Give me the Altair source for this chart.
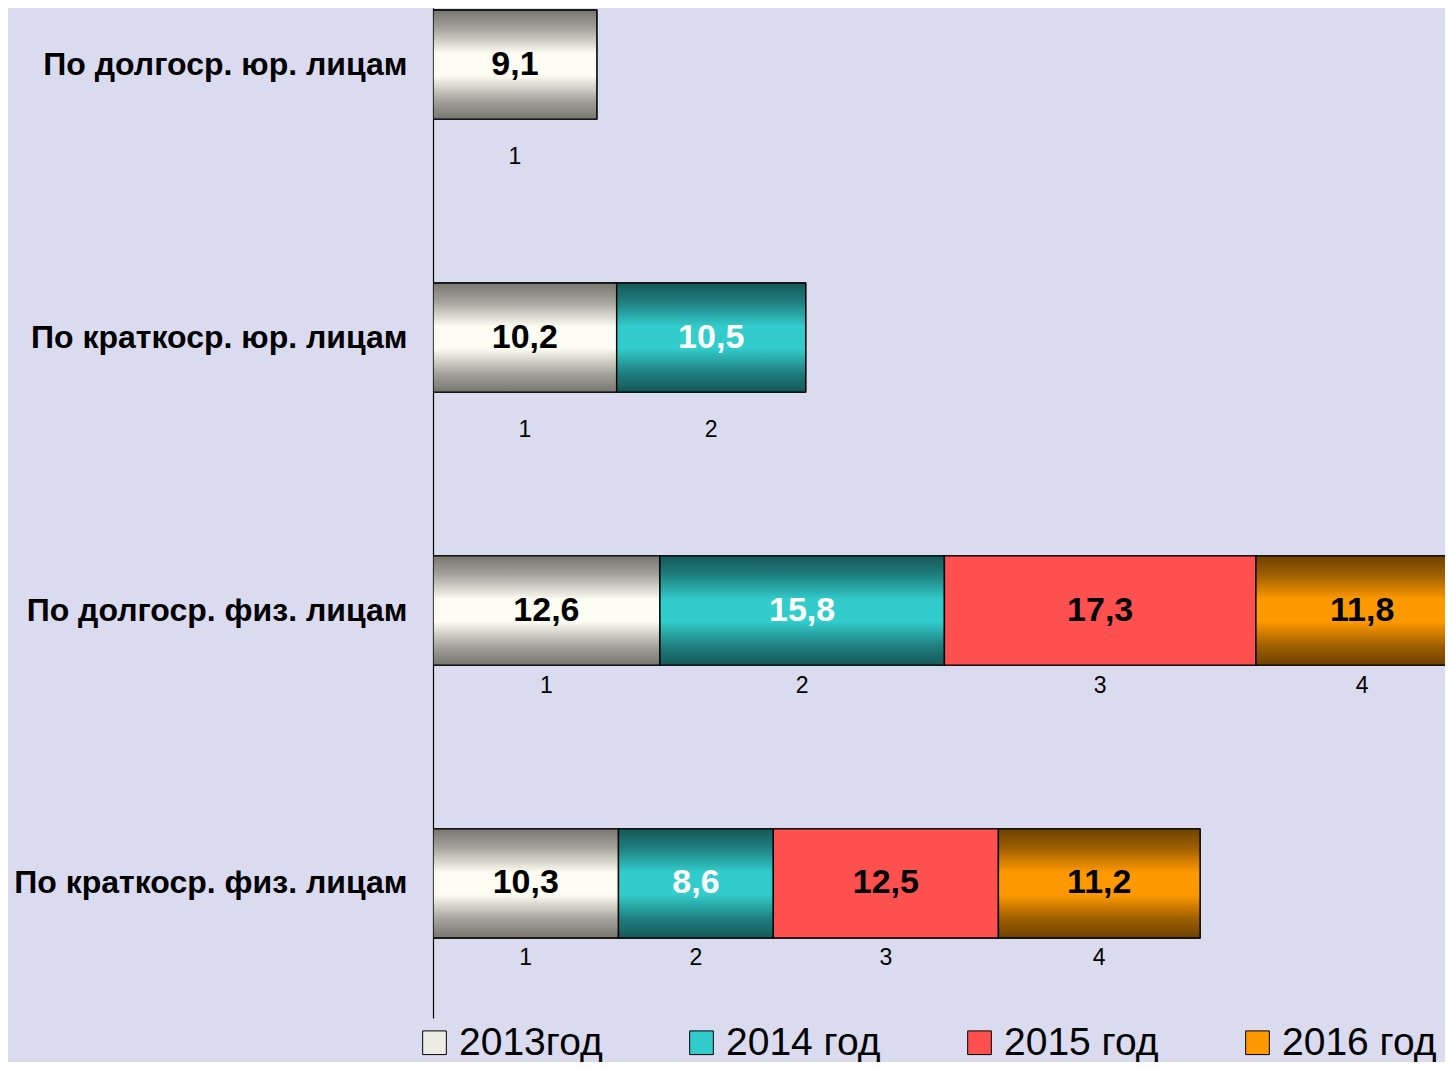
import altair as alt
import pandas as pd

categories = [
    "По долгоср. юр. лицам",
    "По краткоср. юр. лицам",
    "По долгоср. физ. лицам",
    "По краткоср. физ. лицам",
]
years = ["2013год", "2014 год", "2015 год", "2016 год"]
v2013 = [9.1, 10.2, 12.6, 10.3]
v2014 = [None, 10.5, 15.8, 8.6]
v2015 = [None, None, 17.3, 12.5]
v2016 = [None, None, 11.8, 11.2]

series = [v2013, v2014, v2015, v2016]
rows = []
for yi, (yr, vals) in enumerate(zip(years, series)):
    for ci, cat in enumerate(categories):
        if vals[ci] is not None:
            rows.append({"cat": cat, "year": yr, "order": yi + 1, "value": vals[ci]})
df = pd.DataFrame(rows)

FONT = "Liberation Sans"
solid = ["#ecece2", "#33cccc", "#ff5050", "#ff9900"]


def grad(dark, mid, light):
    return alt.Gradient(
        gradient="linear", x1=0, x2=0, y1=0, y2=1,
        stops=[
            alt.GradientStop(color=dark, offset=0),
            alt.GradientStop(color=mid, offset=0.17),
            alt.GradientStop(color=light, offset=0.4),
            alt.GradientStop(color=light, offset=0.6),
            alt.GradientStop(color=mid, offset=0.83),
            alt.GradientStop(color=dark, offset=1),
        ],
    )


fills = {
    "2013год": grad("#76766e", "#a3a39b", "#fdfdf3"),
    "2014 год": grad("#165858", "#1f7d7d", "#33cccc"),
    "2015 год": "#ff5050",
    "2016 год": grad("#6e4200", "#9c5e00", "#ff9900"),
}

yenc = alt.Y(
    "cat:N",
    sort=categories,
    title=None,
    scale=alt.Scale(paddingInner=0.6, paddingOuter=0.15, align=0.024),
    axis=alt.Axis(
        domainColor="black", domainWidth=1.2, ticks=False, labelPadding=26,
        labelFont=FONT, labelFontSize=32, labelFontWeight="bold", labelColor="black",
        labelLimit=500, grid=False,
    ),
)
xscale = alt.Scale(domain=[0, 56.2], nice=False, zero=True)

base = alt.Chart(df).transform_stack(
    stack="value", groupby=["cat"], as_=["x0", "x1"], sort=[alt.SortField("order")]
).transform_calculate(
    mid="(datum.x0 + datum.x1) / 2",
    lab="replace(format(datum.value, '.1f'), '.', ',')",
    num="'' + datum.order",
)

legend_layer = base.mark_bar(clip=True, stroke="black", strokeWidth=1).encode(
    y=yenc,
    x=alt.X("x0:Q", scale=xscale, axis=None),
    x2="x1:Q",
    color=alt.Color(
        "year:N",
        sort=years,
        scale=alt.Scale(domain=years, range=solid),
        legend=alt.Legend(
            title=None, orient="none", direction="horizontal", legendX=-18, legendY=1015,
            symbolType="square", symbolSize=560, symbolStrokeColor="black", symbolStrokeWidth=1,
            symbolOpacity=1, labelFont=FONT, labelFontSize=39, labelColor="black",
            labelOffset=5, columnPadding=79, padding=0, labelLimit=400,
        ),
    ),
)

layers = [legend_layer]
for yr in years:
    layers.append(
        base.transform_filter(alt.datum.year == yr)
        .mark_bar(clip=True, stroke="black", strokeWidth=1.4, color=fills[yr])
        .encode(y=yenc, x=alt.X("x0:Q", scale=xscale, axis=None), x2="x1:Q")
    )

value_text = base.mark_text(font=FONT, fontSize=34, fontWeight="bold").encode(
    y=yenc,
    x=alt.X("mid:Q", scale=xscale, axis=None),
    text="lab:N",
    color=alt.condition(alt.datum.year == "2014 год", alt.value("white"), alt.value("black")),
)

num_top = base.transform_filter(
    alt.FieldOneOfPredicate(field="cat", oneOf=categories[:2])
).mark_text(font=FONT, fontSize=23, color="black", dy=92).encode(
    y=yenc, x=alt.X("mid:Q", scale=xscale, axis=None), text="num:N"
)
num_bot = base.transform_filter(
    alt.FieldOneOfPredicate(field="cat", oneOf=categories[2:])
).mark_text(font=FONT, fontSize=23, color="black", dy=75).encode(
    y=yenc, x=alt.X("mid:Q", scale=xscale, axis=None), text="num:N"
)

chart = alt.layer(*layers, value_text, num_top, num_bot).properties(
    width=1012,
    height=1010,
    background="#dadbef",
    padding={"left": 425, "top": 0, "right": 0, "bottom": 44},
    autosize=alt.AutoSizeParams(type="none"),
).configure_view(stroke=None)

chart.save("out.html", embed_options={"renderer": "svg", "actions": False})
